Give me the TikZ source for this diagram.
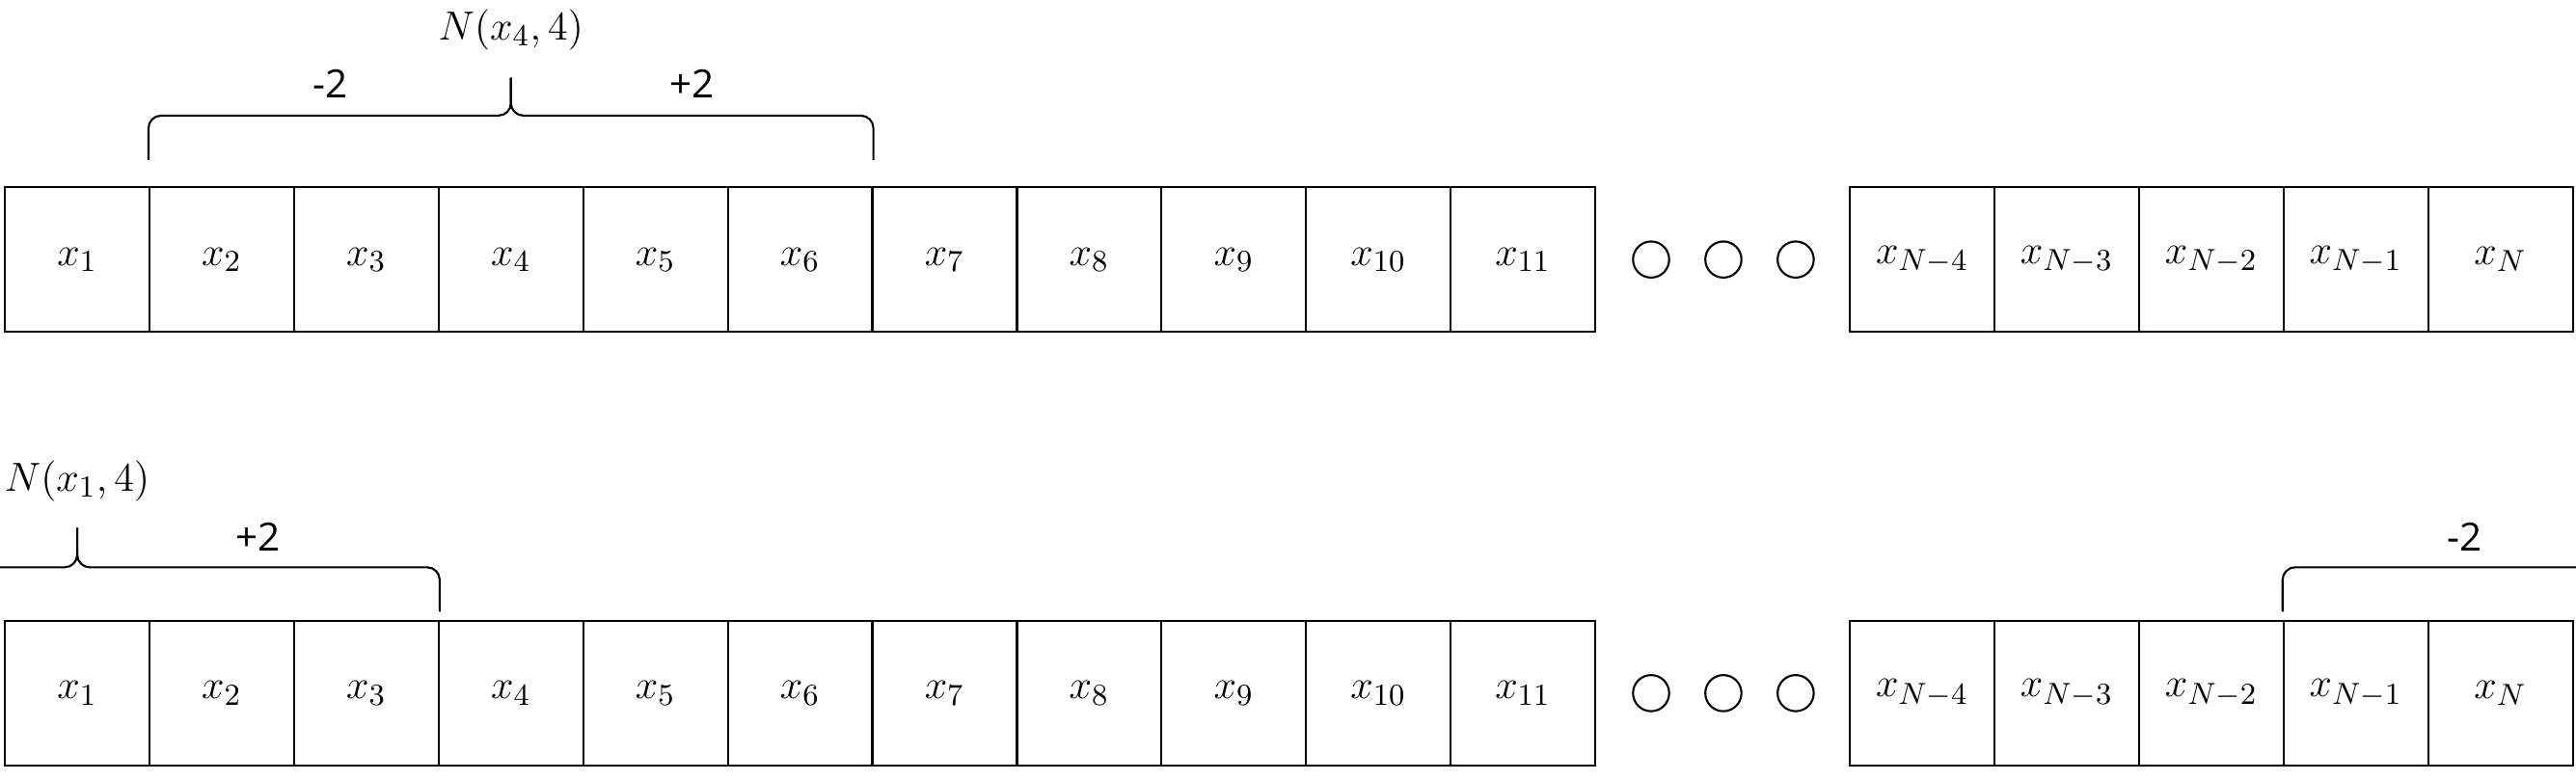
\documentclass[tikz,border=0pt]{standalone}
\usepackage{fontspec}
\newfontfamily\labelfont{Open Sans}
\usetikzlibrary{calc}
\begin{document}
\begin{tikzpicture}[x=0.017045cm,y=-0.017045cm,
  cell/.style={draw, line width=0.6pt, minimum width=1.5cm, minimum height=1.5cm, inner sep=0pt, font=\fontsize{12.5}{15}\selectfont},
  dotc/.style={draw, circle, line width=0.6pt, minimum size=0.375cm, inner sep=0pt},
  brace/.style={line width=0.6pt, rounded corners=0.13cm},
  offs/.style={font=\labelfont\fontsize{11.5}{14}\selectfont, inner sep=0pt},
  nlab/.style={font=\fontsize{12.5}{15}\selectfont, inner sep=0pt}]
\useasboundingbox (0,0) rectangle (1568,475);
\clip (0,0) rectangle (1568,475);

% ---------- top row ----------
\foreach \i in {1,...,11}
  \node[cell] (t\i) at ({47+88*(\i-1)},158) {$x_{\i}$};
\foreach \k/\lab [count=\j] in {a/N-4, b/N-3, c/N-2, d/N-1, e/N}
  \node[cell] (t\k) at ({1170+88*(\j-1)},158) {$x_{\lab}$};
\node[dotc] (tc1) at (1005,158) {};
\node[dotc] (tc2) at (1049,158) {};
\node[dotc] (tc3) at (1093,158) {};

% top brace
\coordinate (tbL) at ($(t2.north west)+(0,-16)$);
\coordinate (tbR) at ($(t6.north east)+(0,-16)$);
\coordinate (tbM) at ($(t4.north)+(0,-43)$);
\coordinate (tbT) at ($(t4.north)+(0,-66)$);
\draw[brace] (tbL) |- (tbM) -- (tbT);
\draw[brace] (tbR) |- (tbM) -- (tbT);
\node[offs] (tml) at (201,51) {-2};
\node[offs] (tpl) at (421,51) {+2};
\node[nlab] (tn) at (311,18) {$N(x_4,4)$};

% ---------- bottom row ----------
\foreach \i in {1,...,11}
  \node[cell] (b\i) at ({47+88*(\i-1)},422) {$x_{\i}$};
\foreach \k/\lab [count=\j] in {a/N-4, b/N-3, c/N-2, d/N-1, e/N}
  \node[cell] (b\k) at ({1170+88*(\j-1)},422) {$x_{\lab}$};
\node[dotc] (bc1) at (1005,422) {};
\node[dotc] (bc2) at (1049,422) {};
\node[dotc] (bc3) at (1093,422) {};

% bottom-left brace (wraps past the left edge)
\coordinate (bbR) at ($(b3.north east)+(0,-5)$);
\coordinate (bbL) at ($(b1.north)+(-220,-5)$);
\coordinate (bbM) at ($(b1.north)+(0,-32)$);
\coordinate (bbT) at ($(b1.north)+(0,-56)$);
\draw[brace] (bbL) |- (bbM) -- (bbT);
\draw[brace] (bbR) |- (bbM) -- (bbT);
\node[offs] (bpl) at (157,327) {+2};
\node[nlab] (bn) at (47,293) {$N(x_1,4)$};

% bottom-right brace (wraps past the right edge)
\coordinate (brL) at ($(bd.north west)+(0,-5)$);
\coordinate (brR) at ($(bd.north west)+(440,-5)$);
\coordinate (brM) at ($(bd.north west)+(220,-32)$);
\coordinate (brT) at ($(bd.north west)+(220,-56)$);
\draw[brace] (brL) |- (brM) -- (brT);
\draw[brace] (brR) |- (brM) -- (brT);
\node[offs] (bml) at (1500,327) {-2};
\end{tikzpicture}
\end{document}
